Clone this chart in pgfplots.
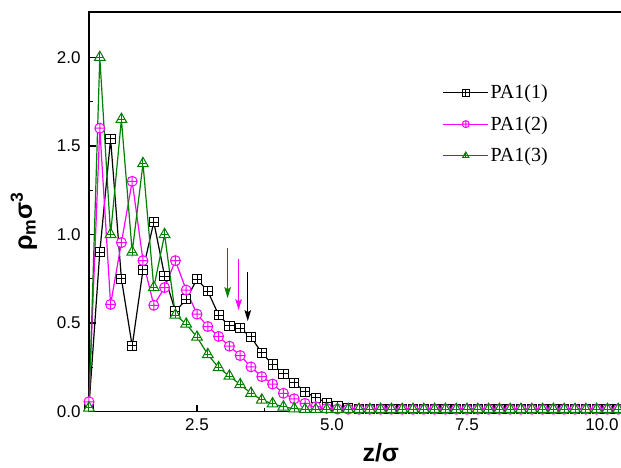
\documentclass[border=0pt]{standalone}
\usepackage{fontspec}
\setmainfont{Liberation Sans}
\newfontfamily\serif{Liberation Serif}
\usepackage{pgfplots}
\pgfplotsset{compat=1.18}
\usetikzlibrary{arrows.meta}
\definecolor{pgreen}{RGB}{0,128,0}
\definecolor{pmag}{RGB}{255,0,255}

\pgfdeclareplotmark{sqplus}{%
 \pgfpathrectangle{\pgfqpoint{-\pgfplotmarksize}{-\pgfplotmarksize}}{\pgfqpoint{2\pgfplotmarksize}{2\pgfplotmarksize}}%
 \pgfusepathqfillstroke
 \pgfpathmoveto{\pgfqpoint{-\pgfplotmarksize}{0pt}}%
 \pgfpathlineto{\pgfqpoint{\pgfplotmarksize}{0pt}}%
 \pgfpathmoveto{\pgfqpoint{0pt}{-\pgfplotmarksize}}%
 \pgfpathlineto{\pgfqpoint{0pt}{\pgfplotmarksize}}%
 \pgfusepathqstroke}
\pgfdeclareplotmark{triplus}{%
 \pgfpathmoveto{\pgfqpointpolar{90}{\pgfplotmarksize}}%
 \pgfpathlineto{\pgfqpointpolar{-30}{\pgfplotmarksize}}%
 \pgfpathlineto{\pgfqpointpolar{210}{\pgfplotmarksize}}%
 \pgfpathclose
 \pgfusepathqfillstroke
 \pgfpathmoveto{\pgfqpoint{0pt}{\pgfplotmarksize}}%
 \pgfpathlineto{\pgfqpoint{0pt}{-0.5\pgfplotmarksize}}%
 \pgfpathmoveto{\pgfqpoint{-0.577\pgfplotmarksize}{0pt}}%
 \pgfpathlineto{\pgfqpoint{0.577\pgfplotmarksize}{0pt}}%
 \pgfusepathqstroke}

\pgfplotstableread{
x y
0.5 0.03
0.7 0.90
0.9 1.54
1.1 0.75
1.3 0.37
1.5 0.80
1.7 1.07
1.9 0.765
2.1 0.565
2.3 0.634
2.5 0.747
2.7 0.68
2.9 0.545
3.1 0.483
3.3 0.47
3.5 0.421
3.7 0.331
3.9 0.266
4.1 0.212
4.3 0.163
4.5 0.112
4.7 0.078
4.9 0.05
5.1 0.031
5.3 0.018
5.5 0.015
5.7 0.014
5.9 0.014
6.1 0.014
6.3 0.014
6.5 0.014
6.7 0.014
6.9 0.014
7.1 0.014
7.3 0.014
7.5 0.014
7.7 0.014
7.9 0.014
8.1 0.014
8.3 0.014
8.5 0.014
8.7 0.014
8.9 0.014
9.1 0.014
9.3 0.014
9.5 0.014
9.7 0.014
9.9 0.014
10.1 0.014
10.3 0.014
10.5 0.014
}\tblA
\pgfplotstableread{
x y
0.5 0.055
0.7 1.60
0.9 0.605
1.1 0.954
1.3 1.30
1.5 0.852
1.7 0.60
1.9 0.70
2.1 0.852
2.3 0.686
2.5 0.55
2.7 0.48
2.9 0.424
3.1 0.369
3.3 0.316
3.5 0.252
3.7 0.197
3.9 0.155
4.1 0.103
4.3 0.072
4.5 0.046
4.7 0.027
4.9 0.018
5.1 0.014
5.3 0.013
5.5 0.013
5.7 0.013
5.9 0.013
6.1 0.013
6.3 0.013
6.5 0.013
6.7 0.013
6.9 0.013
7.1 0.013
7.3 0.013
7.5 0.013
7.7 0.013
7.9 0.013
8.1 0.013
8.3 0.013
8.5 0.013
8.7 0.013
8.9 0.013
9.1 0.013
9.3 0.013
9.5 0.013
9.7 0.013
9.9 0.013
10.1 0.013
10.3 0.013
10.5 0.013
}\tblB
\pgfplotstableread{
x y
0.5 0.02
0.7 2.00
0.9 1.00
1.1 1.65
1.3 0.90
1.5 1.40
1.7 0.70
1.9 1.00
2.1 0.545
2.3 0.494
2.5 0.42
2.7 0.322
2.9 0.248
3.1 0.20
3.3 0.152
3.5 0.103
3.7 0.065
3.9 0.044
4.1 0.026
4.3 0.016
4.5 0.012
4.7 0.012
4.9 0.012
5.1 0.012
5.3 0.012
5.5 0.012
5.7 0.012
5.9 0.012
6.1 0.012
6.3 0.012
6.5 0.012
6.7 0.012
6.9 0.012
7.1 0.012
7.3 0.012
7.5 0.012
7.7 0.012
7.9 0.012
8.1 0.012
8.3 0.012
8.5 0.012
8.7 0.012
8.9 0.012
9.1 0.012
9.3 0.012
9.5 0.012
9.7 0.012
9.9 0.012
10.1 0.012
10.3 0.012
10.5 0.012
}\tblC

\begin{document}
\begin{tikzpicture}
\begin{axis}[
  scale only axis,
  width=545.4pt, height=399.8pt,
  xmin=0.5, xmax=10.6, ymin=0, ymax=2.258,
  xtick={2.5,5,7.5,10},
  ytick={0,0.5,1,1.5,2},
  minor x tick num=1,
  minor y tick num=1,
  tick pos=left,
  tick align=inside,
  major tick length=7pt,
  minor tick length=4pt,
  every tick/.style={line width=1.2pt, black},
  axis line style={line width=1.8pt},
  /pgf/number format/assume math mode=true,
  tick label style={font=\fontsize{17}{19}\selectfont},
  xticklabel style={yshift=-4pt, /pgf/number format/.cd, fixed, fixed zerofill, precision=1},
  yticklabel style={xshift=-5pt, /pgf/number format/.cd, fixed, fixed zerofill, precision=1},
  xlabel={\bfseries z/σ},
  ylabel={\bfseries ρ\textsubscript{m}σ\textsuperscript{3}},
  xlabel style={font=\fontsize{25}{28}\selectfont, at={(axis description cs:0.535,-0.124)}, anchor=base},
  ylabel style={font=\fontsize{25}{28}\selectfont, at={(axis description cs:-0.1045,0.476)}, anchor=base},
  legend style={draw=none, fill=none, font=\serif\fontsize{20}{22}\selectfont,
    at={(axis description cs:0.6485,0.822)}, anchor=north west, row sep=12pt, inner sep=0pt},
  legend cell align=left,
  legend image code/.code={\draw[#1, mark size=3.5pt, mark repeat=2, mark phase=2] plot coordinates {(0pt,0pt) (22.3pt,0pt) (44.6pt,0pt)};},
]
\coordinate (bl) at (rel axis cs:0,0);
\addplot[black, line width=1.2pt, mark=sqplus, mark size=4.6pt, mark options={fill=white, line width=1pt}] table[x=x,y=y] {\tblA};
\addlegendentry{PA1(1)}
\addplot[pmag, line width=1.2pt, mark=oplus*, mark size=5pt, mark options={fill=white, line width=1pt}] table[x=x,y=y] {\tblB};
\addlegendentry{PA1(2)}
\addplot[pgreen, line width=1.2pt, mark=triplus, mark size=6.2pt, mark options={fill=white, line width=1pt}] table[x=x,y=y] {\tblC};
\addlegendentry{PA1(3)}
\draw[pgreen, line width=1.4pt, -{Stealth[length=11pt,width=6.5pt,inset=2pt]}] (axis cs:3.067,0.922) -- (axis cs:3.067,0.64);
\draw[pmag, line width=1.4pt, -{Stealth[length=11pt,width=6.5pt,inset=2pt]}] (axis cs:3.27,0.859) -- (axis cs:3.27,0.572);
\draw[black, line width=1.4pt, -{Stealth[length=11pt,width=6.5pt,inset=2pt]}] (axis cs:3.44,0.79) -- (axis cs:3.44,0.51);
\end{axis}
\pgfresetboundingbox
\path ([shift={(-89pt,-55.5pt)}]bl) rectangle ([shift={(532pt,411.5pt)}]bl);
\end{tikzpicture}
\end{document}
